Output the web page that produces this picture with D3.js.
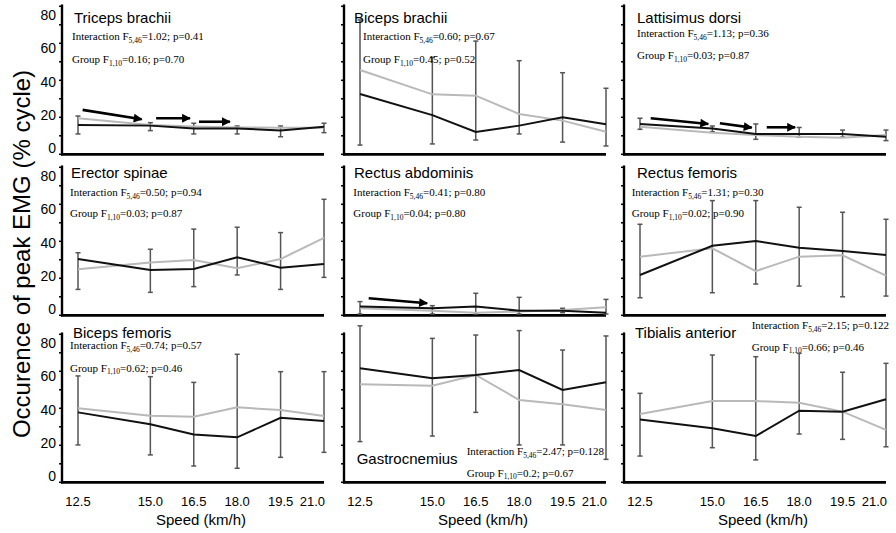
<!DOCTYPE html>
<html><head><meta charset="utf-8">
<script src="https://cdn.jsdelivr.net/npm/d3@7"></script>
<style>
body{margin:0;background:#fff;}
svg{display:block;}
</style>
</head><body>
<svg id="chart" width="896" height="533"></svg>
<script>
// ---------- data ----------
const speeds = [12.5, 15.0, 16.5, 18.0, 19.5, 21.0];
const xTickLabels = ["12.5", "15.0", "16.5", "18.0", "19.5", "21.0"];
const yTickLabels = [0, 20, 40, 60, 80];
const yMinorTicks = [0, 10, 20, 30, 40, 50, 60, 70, 80];
const muscles = ["Triceps brachii", "Biceps brachii", "Lattisimus dorsi",
                 "Erector spinae", "Rectus abdominis", "Rectus femoris",
                 "Biceps femoris", "Gastrocnemius", "Tibialis anterior"];
// black line group
const blackSeries = [
  [15.8, 15.5, 14.0, 14.0, 12.8, 14.9],
  [32.6, 21.2, 12.1, 15.5, 20.0, 16.2],
  [16.4, 14.0, 11.0, 11.0, 11.0, 9.5],
  [30.4, 24.5, 25.0, 31.4, 25.7, 27.7],
  [4.7, 3.8, 4.7, 2.5, 2.5, 1.4],
  [21.8, 37.6, 40.2, 36.5, 34.8, 32.6],
  [37.8, 31.4, 25.9, 24.3, 34.9, 33.1],
  [61.6, 56.2, 58.0, 60.7, 49.9, 54.1],
  [34.0, 29.2, 25.0, 38.7, 38.2, 44.9]
];
// grey line group
const greySeries = [
  [19.5, 15.8, 15.0, 14.5, 14.4, 14.4],
  [45.6, 32.4, 31.7, 21.8, 18.2, 12.2],
  [14.9, 11.7, 10.4, 9.5, 9.0, 10.4],
  [24.9, 28.6, 29.9, 25.4, 30.4, 41.9],
  [3.8, 2.5, 1.4, 2.0, 2.8, 4.3],
  [31.7, 36.2, 23.9, 31.7, 32.4, 21.4],
  [40.0, 36.0, 35.5, 40.5, 39.1, 35.8],
  [53.0, 52.2, 58.0, 44.5, 42.2, 39.1],
  [36.9, 43.9, 43.9, 43.0, 38.2, 28.3]
];
// error bar extents
const errHigh = [
  [20.7, 17.1, 16.8, 15.3, 15.3, 16.8],
  [72.6, 52.4, 61.2, 50.6, 44.1, 35.7],
  [19.5, 15.3, 16.4, 14.5, 13.1, 13.1],
  [33.8, 35.7, 46.6, 47.6, 44.7, 62.7],
  [7.4, 5.2, 11.9, 9.7, 3.8, 8.6],
  [49.2, 62.0, 62.0, 58.4, 55.7, 51.9],
  [57.5, 57.1, 54.0, 69.2, 59.8, 59.8],
  [84.6, 77.8, 79.6, 82.0, 71.5, 79.1],
  [48.1, 68.8, 67.9, 69.7, 59.5, 64.3]
];
const errLow = [
  [11.0, 12.8, 11.0, 11.0, 9.5, 11.7],
  [5.0, 5.6, 7.7, 11.0, 6.6, 4.5],
  [13.5, 12.2, 8.1, 9.3, 9.3, 7.4],
  [14.0, 12.4, 15.5, 21.8, 14.0, 20.5],
  [0.7, 0.7, 0.7, 0.7, 1.4, 0.7],
  [9.5, 12.2, 16.9, 15.8, 10.0, 10.4],
  [20.2, 14.8, 8.8, 7.6, 13.5, 16.2],
  [22.0, 25.0, 37.8, 20.2, 20.2, 12.4],
  [14.2, 18.7, 12.1, 26.1, 23.2, 19.2]
];
const interF = ["1.02", "0.60", "1.13", "0.50", "0.41", "1.31", "0.74", "2.47", "2.15"];
const interP = ["0.41", "0.67", "0.36", "0.94", "0.80", "0.30", "0.57", "0.128", "0.122"];
const groupF = ["0.16", "0.45", "0.03", "0.03", "0.04", "0.02", "0.62", "0.2", "0.66"];
const groupP = ["0.70", "0.52", "0.87", "0.87", "0.80", "0.90", "0.46", "0.67", "0.46"];
// arrows in data units: [panel, speedStart, valueStart, speedEnd, valueEnd]
const arrows = [
  [0, 12.66, 24.0, 14.70, 18.9],
  [0, 15.20, 19.5, 16.37, 19.5],
  [0, 16.68, 17.6, 17.75, 17.6],
  [2, 12.87, 19.5, 14.86, 16.4],
  [2, 15.26, 16.8, 16.36, 14.4],
  [2, 16.88, 14.6, 17.86, 14.6],
  [4, 12.80, 9.2, 14.82, 6.5]
];

// ---------- layout ----------
const colX = [62, 344, 624];
const rowBottom = [154.3, 315.3, 482.3];
const plotW = 262, plotH = 148;
// per-panel text placement [titleDx, titleDy, statDx, interDy, groupDy] relative to (x0, y(80))
const textPos = [
  [12, 17, 10, 34, 57],
  [10, 17, 19, 34, 57],
  [13, 17, 13, 31, 53],
  [9, 11, 8, 28.7, 50],
  [10, 11, 9.3, 28.7, 50],
  [13, 11, 7.7, 28.7, 50],
  [11, 3.4, 8, 15, 37.4],
  [12.7, 130, 122.7, 120.7, 142.4],
  [11, 4, 127.7, -5, 16.4]
];

const svg = d3.select("#chart");
const sans = "'Liberation Sans', Arial, Helvetica, sans-serif";
const serif = "'Liberation Serif', 'Times New Roman', serif";

const defs = svg.append("defs");
defs.append("marker").attr("id", "ah")
  .attr("viewBox", "0 0 10 10").attr("refX", 9).attr("refY", 5)
  .attr("markerWidth", 4.2).attr("markerHeight", 3.4).attr("markerUnits", "strokeWidth")
  .attr("orient", "auto")
  .append("path").attr("d", "M0,0 L10,5 L0,10 Z").attr("fill", "#000");

muscles.forEach((name, i) => {
  const col = i % 3, row = Math.floor(i / 3);
  const x0 = colX[col], yb = rowBottom[row];
  const x = d3.scaleLinear().domain([12.5, 21]).range([x0 + 16, x0 + plotW]);
  const y = d3.scaleLinear().domain([0, 80]).range([yb, yb - plotH]);
  const yLab = d3.scaleLinear().domain([0, 80]).range([yb - 6, yb - plotH + 8.5]);
  const g = svg.append("g");

  // y axis ticks
  g.selectAll("line.yt").data(yMinorTicks).enter().append("line")
    .attr("x1", x0 - 3).attr("x2", x0).attr("y1", d => y(d)).attr("y2", d => y(d))
    .attr("stroke", "#000").attr("stroke-width", 1.5);
  // y axis line
  g.append("line").attr("x1", x0).attr("x2", x0).attr("y1", y(81)).attr("y2", yb + 1)
    .attr("stroke", "#000").attr("stroke-width", 2.4);
  // x axis line
  g.append("line").attr("x1", x0 - 1).attr("x2", x0 + plotW).attr("y1", yb).attr("y2", yb)
    .attr("stroke", "#000").attr("stroke-width", 2.8);

  if (col === 0) {
    g.selectAll("text.yl").data(yTickLabels).enter().append("text")
      .attr("x", x0 - 6).attr("y", d => yLab(d)).attr("dy", "0.36em")
      .attr("text-anchor", "end").attr("font-family", sans).attr("font-size", 14)
      .attr("fill", "#000").text(d => d);
  }
  if (row === 2) {
    const last = speeds.length - 1;
    g.selectAll("text.xl").data(speeds).enter().append("text")
      .attr("x", (d, k) => k === last ? x(d) + 1 : x(d)).attr("y", 501).attr("dy", "0.36em")
      .attr("text-anchor", (d, k) => k === last ? "end" : "middle")
      .attr("font-family", sans).attr("font-size", 13)
      .attr("fill", "#000").text((d, k) => xTickLabels[k]);
    g.append("text").attr("x", (x.range()[0] + x.range()[1]) / 2).attr("y", 520).attr("dy", "0.36em")
      .attr("text-anchor", "middle").attr("font-family", sans).attr("font-size", 15)
      .attr("fill", "#000").text("Speed (km/h)");
  }

  // error bars
  speeds.forEach((s, k) => {
    const xx = x(s);
    const yt = y(errHigh[i][k]), ybm = y(errLow[i][k]);
    g.append("line").attr("x1", xx).attr("x2", xx).attr("y1", yt).attr("y2", ybm)
      .attr("stroke", "#555").attr("stroke-width", 1.5);
    [yt, ybm].forEach(v => g.append("line").attr("x1", xx - 2.5).attr("x2", xx + 2.5)
      .attr("y1", v).attr("y2", v).attr("stroke", "#555").attr("stroke-width", 1.5));
  });

  const line = d3.line().x((d, k) => x(speeds[k])).y(d => y(d));
  g.append("path").datum(greySeries[i]).attr("d", line)
    .attr("fill", "none").attr("stroke", "#b9b9b9").attr("stroke-width", 2);
  g.append("path").datum(blackSeries[i]).attr("d", line)
    .attr("fill", "none").attr("stroke", "#111").attr("stroke-width", 2);

  // arrows
  arrows.filter(a => a[0] === i).forEach(a => {
    g.append("line").attr("x1", x(a[1])).attr("y1", y(a[2]))
      .attr("x2", x(a[3])).attr("y2", y(a[4]))
      .attr("stroke", "#000").attr("stroke-width", 2.6).attr("marker-end", "url(#ah)");
  });

  // texts
  const tp = textPos[i];
  const y80 = y(80);
  g.append("text").attr("x", x0 + tp[0]).attr("y", y80 + tp[1])
    .attr("font-family", sans).attr("font-size", 15).attr("fill", "#000").text(name);

  const t1 = g.append("text").attr("x", x0 + tp[2]).attr("y", y80 + tp[3])
    .attr("font-family", serif).attr("font-size", 11).attr("fill", "#000");
  t1.append("tspan").text("Interaction F");
  t1.append("tspan").attr("font-size", 7.5).attr("dy", 2.5).text("5,46");
  t1.append("tspan").attr("dy", -2.5).text("=" + interF[i] + "; p=" + interP[i]);

  const t2 = g.append("text").attr("x", x0 + tp[2]).attr("y", y80 + tp[4])
    .attr("font-family", serif).attr("font-size", 11).attr("fill", "#000");
  t2.append("tspan").text("Group F");
  t2.append("tspan").attr("font-size", 7.5).attr("dy", 2.5).text("1,10");
  t2.append("tspan").attr("dy", -2.5).text("=" + groupF[i] + "; p=" + groupP[i]);
});

// y axis title
svg.append("text")
  .attr("transform", "translate(30,254) rotate(-90)")
  .attr("text-anchor", "middle").attr("font-family", sans).attr("font-size", 24)
  .attr("fill", "#000").text("Occurence of peak EMG (% cycle)");
</script>
</body></html>
